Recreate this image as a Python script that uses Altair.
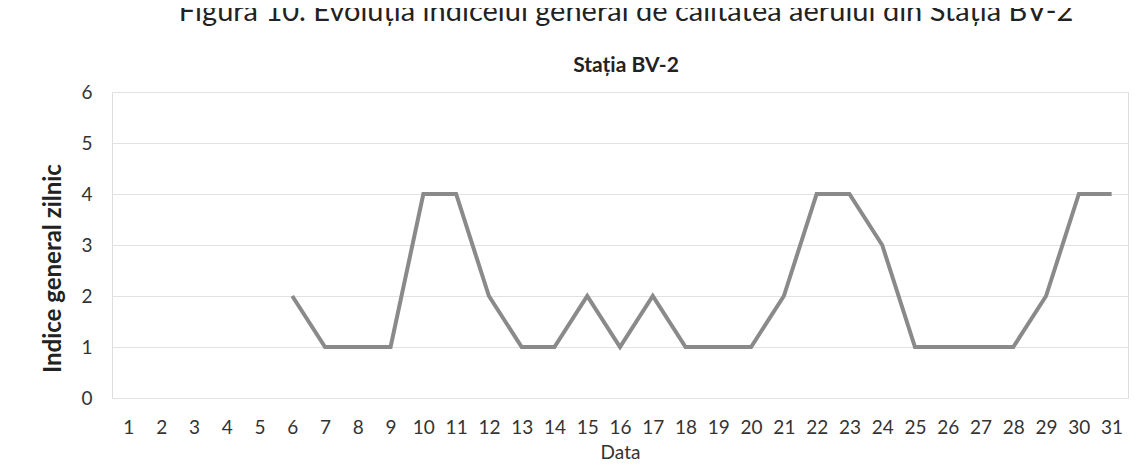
import altair as alt
import pandas as pd

days = list(range(1, 32))
index_values = [None, None, None, None, None,
                2, 1, 1, 1, 4, 4, 2, 1, 1, 2, 1, 2, 1, 1, 1,
                2, 4, 4, 3, 1, 1, 1, 1, 2, 4, 4]
y_ticks = [0, 1, 2, 3, 4, 5, 6]

caption = "Figura 10. Evoluția indicelui general de calitatea aerului din Stația BV-2"
chart_title = "Stația BV-2"

df = pd.DataFrame({"Data": days, "Indice": index_values})

FONT = "Lato"

chart = (
    alt.Chart(df)
    .mark_line(color="#8a8a8a", strokeWidth=4, strokeJoin="miter")
    .encode(
        x=alt.X(
            "Data:O",
            scale=alt.Scale(domain=days, padding=0.5),
            axis=alt.Axis(
                title="Data",
                labelAngle=0,
                labelFontSize=19,
                labelColor="#333333",
                labelFont=FONT,
                labelPadding=20,
                ticks=False,
                domain=False,
                grid=False,
                titleFont=FONT,
                titleFontSize=19,
                titleFontWeight="normal",
                titleColor="#333333",
                titleY=54,
                titleX=508,
                titleAlign="center",
                titleBaseline="middle",
            ),
        ),
        y=alt.Y(
            "Indice:Q",
            scale=alt.Scale(domain=[0, 6], nice=False),
            axis=alt.Axis(
                title="Indice general zilnic",
                values=y_ticks,
                labelFontSize=19,
                labelColor="#333333",
                labelFont=FONT,
                labelPadding=20,
                ticks=False,
                domain=False,
                grid=True,
                gridColor="#e2e2e2",
                gridWidth=1,
                titleFont=FONT,
                titleFontSize=24,
                titleFontWeight="bold",
                titleColor="#222222",
                titleX=-59,
                titleY=176,
                titleAngle=-90,
                titleAlign="center",
                titleBaseline="middle",
            ),
        ),
    )
    .properties(
        width=1016,
        height=306,
        autosize=alt.AutoSizeParams(type="none"),
        padding={"left": 104, "top": 84, "right": 6, "bottom": 68},
        title=alt.TitleParams(
            text=caption,
            subtitle=chart_title,
            font=FONT,
            fontSize=29,
            fontWeight="normal",
            color="#222222",
            subtitleFont=FONT,
            subtitleFontSize=21,
            subtitleFontWeight="bold",
            subtitleColor="#222222",
            subtitlePadding=28,
            anchor="middle",
            dx=6,
            offset=7,
        ),
    )
    .configure_view(stroke=None)
    .configure(background="white")
)

chart.save("out.html", embed_options={"renderer": "svg", "actions": False})
